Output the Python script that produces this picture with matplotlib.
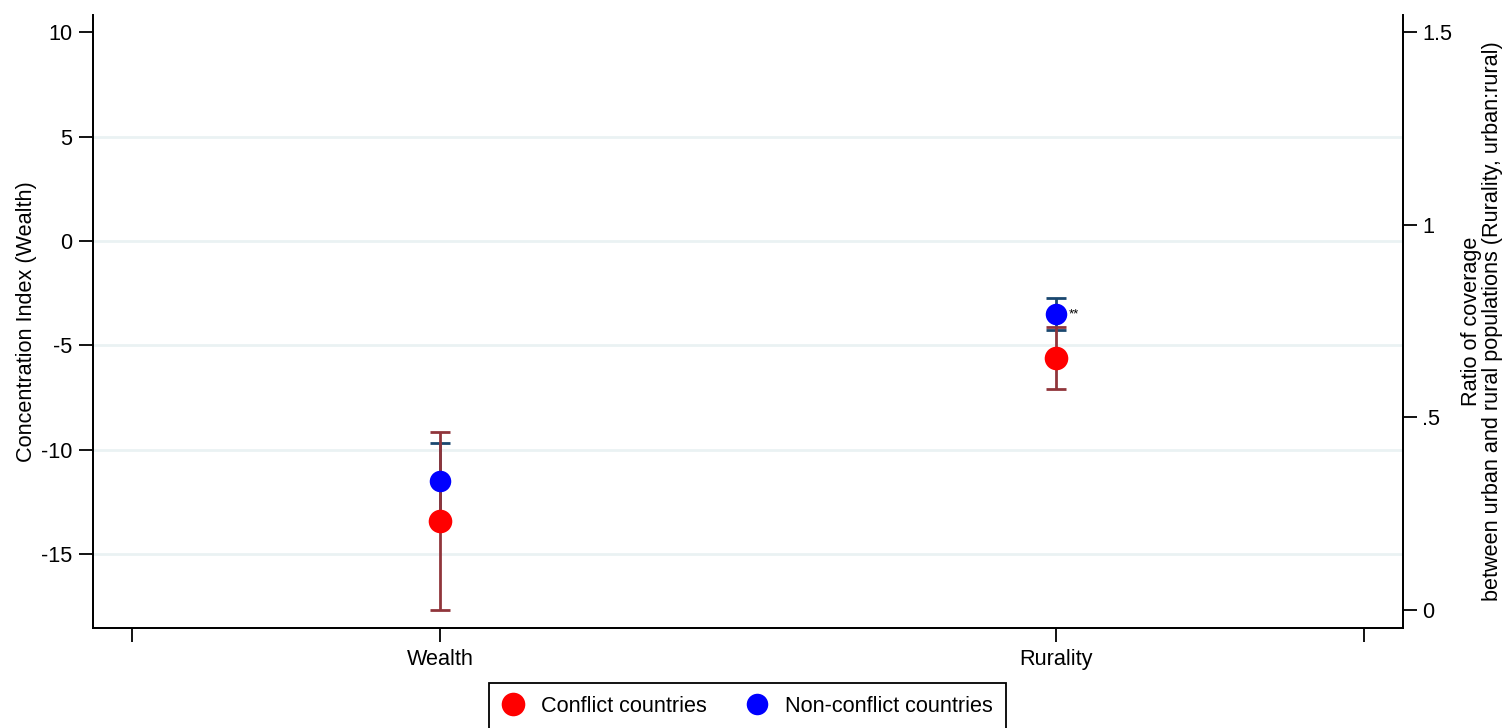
import matplotlib
matplotlib.use("Agg")
import matplotlib.pyplot as plt
from matplotlib.lines import Line2D

plt.rcParams['font.family'] = ['Liberation Sans', 'DejaVu Sans']

# data
groups = ['Wealth', 'Rurality']
group_x = [1, 2]

# Wealth -> concentration index (left axis), Rurality -> urban:rural ratio (right axis)
conflict_est = [-13.41, 0.653]
conflict_lo = [-17.67, 0.574]
conflict_hi = [-9.13, 0.734]

nonconf_est = [-11.48, 0.768]
nonconf_lo = [-13.30, 0.727]
nonconf_hi = [-9.66, 0.809]

left_ticks = [-15, -10, -5, 0, 5, 10]
left_labels = ['-15', '-10', '-5', '0', '5', '10']
right_ticks = [0, 0.5, 1, 1.5]
right_labels = ['0', '.5', '1', '1.5']

red = '#ff0000'
blue = '#0000ff'
red_ci = '#90353b'
blue_ci = '#1a476f'
grid_c = '#eaf2f3'
fs = 15.6

fig = plt.figure(figsize=(15.09, 7.28), dpi=100)
ax = fig.add_axes([93/1509, 1-628/728, (1403-93)/1509, (628-15)/728])
ax2 = ax.twinx()

def draw(a, i):
    x = group_x[i]
    a.errorbar([x], [nonconf_est[i]],
               yerr=[[nonconf_est[i]-nonconf_lo[i]], [nonconf_hi[i]-nonconf_est[i]]],
               fmt='none', ecolor=blue_ci, elinewidth=2, capsize=7, capthick=2, zorder=2)
    a.errorbar([x], [conflict_est[i]],
               yerr=[[conflict_est[i]-conflict_lo[i]], [conflict_hi[i]-conflict_est[i]]],
               fmt='none', ecolor=red_ci, elinewidth=2, capsize=7, capthick=2, zorder=3)
    a.plot([x], [conflict_est[i]], 'o', color=red, markersize=17, mec='none', zorder=4)
    a.plot([x], [nonconf_est[i]], 'o', color=blue, markersize=15.5, mec='none', zorder=5)

draw(ax, 0)
draw(ax2, 1)
ax2.annotate('**', (group_x[1], nonconf_est[1]), xytext=(9, 0), textcoords='offset points',
             ha='left', va='center', fontsize=9.5)

ax.set_xlim(0.437, 2.563)
ax.set_ylim(-18.53, 10.82)
ax2.set_ylim(-0.047, 1.544)

ax.set_xticks([0.5] + group_x + [2.5])
ax.set_xticklabels([''] + groups + [''])
ax.set_yticks(left_ticks)
ax.set_yticklabels(left_labels)
ax2.set_yticks(right_ticks)
ax2.set_yticklabels(right_labels)

for y in left_ticks[:-1]:
    ax.axhline(y, color=grid_c, lw=2, zorder=0)

for a in (ax, ax2):
    for s in a.spines.values():
        s.set_linewidth(1.3)
    a.tick_params(axis='both', length=10, width=1.3, labelsize=fs, pad=5)
ax2.tick_params(axis='y', pad=4)
ax.spines['top'].set_visible(False)
ax2.spines['top'].set_visible(False)

ax.set_ylabel('Concentration Index (Wealth)', fontsize=fs, labelpad=3)
ax2.set_ylabel('Ratio of coverage\nbetween urban and rural populations (Rurality, urban:rural)',
               fontsize=fs, labelpad=6, linespacing=1.0)

handles = [Line2D([], [], ls='none', marker='o', color=red, markersize=17, mec='none'),
           Line2D([], [], ls='none', marker='o', color=blue, markersize=15.5, mec='none')]
leg = fig.legend(handles, ['Conflict countries', 'Non-conflict countries'], ncol=2,
                 loc='upper left', bbox_to_anchor=(489/1509, 1-683/728),
                 bbox_transform=fig.transFigure, borderaxespad=0, fontsize=fs,
                 fancybox=False, edgecolor='black', framealpha=1,
                 handlelength=1.0, handletextpad=0.8, columnspacing=1.8, borderpad=0.6)
leg.get_frame().set_linewidth(1.3)

fig.savefig('out.png', dpi=100)
